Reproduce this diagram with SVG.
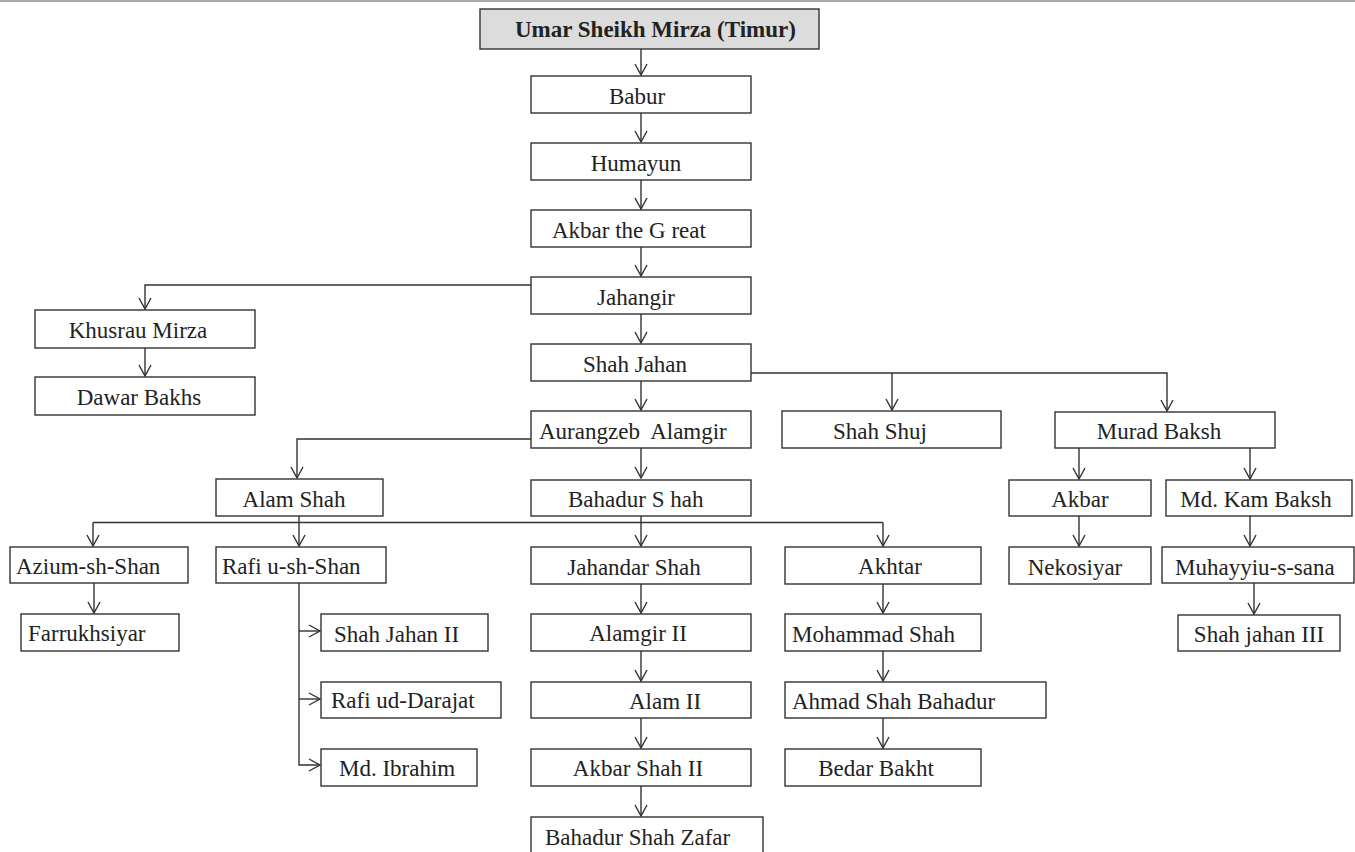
<svg xmlns="http://www.w3.org/2000/svg" width="1355" height="852" viewBox="0 0 1355 852">
  <style>
    .box { fill: #ffffff; stroke: #333333; stroke-width: 1.4; }
    .root { fill: #dcdcdc; stroke: #333333; stroke-width: 1.4; }
    .t { font-family: 'Liberation Serif', Tinos, 'Times New Roman', Times, 'DejaVu Serif', serif; font-size: 23px; fill: #222222; }
    .c { text-anchor: middle; }
    .b { font-weight: bold; }
    .conn { fill: none; stroke: #333333; stroke-width: 1.4; }
  </style>
  <defs>
    <marker id="arrow" viewBox="0 0 13 14" refX="12" refY="7" markerWidth="13" markerHeight="14" markerUnits="userSpaceOnUse" orient="auto">
      <path d="M1,1 L12,7 L1,13" fill="none" stroke="#333333" stroke-width="1.4"/>
    </marker>
  </defs>
  <rect width="1355" height="852" fill="#ffffff"/>
  <line x1="0" y1="1" x2="1355" y2="1" stroke="#a8a8a8" stroke-width="2"/>

  <!-- connectors -->
  <g id="connectors" class="conn">
    <line x1="641" y1="49" x2="641" y2="75" marker-end="url(#arrow)"/>
    <line x1="641" y1="113" x2="641" y2="142" marker-end="url(#arrow)"/>
    <line x1="641" y1="180" x2="641" y2="209" marker-end="url(#arrow)"/>
    <line x1="641" y1="247" x2="641" y2="276" marker-end="url(#arrow)"/>
    <line x1="641" y1="314" x2="641" y2="343" marker-end="url(#arrow)"/>
    <polyline points="531,285 145,285 145,309" marker-end="url(#arrow)"/>
    <line x1="145" y1="348" x2="145" y2="376" marker-end="url(#arrow)"/>
    <line x1="641" y1="381" x2="641" y2="410" marker-end="url(#arrow)"/>
    <polyline points="751,373 1167,373 1167,411" marker-end="url(#arrow)"/>
    <line x1="892" y1="373" x2="892" y2="410" marker-end="url(#arrow)"/>
    <line x1="641" y1="448" x2="641" y2="478" marker-end="url(#arrow)"/>
    <polyline points="531,439 297,439 297,478" marker-end="url(#arrow)"/>
    <line x1="1079" y1="448" x2="1079" y2="479" marker-end="url(#arrow)"/>
    <line x1="1250" y1="448" x2="1250" y2="479" marker-end="url(#arrow)"/>
    <line x1="1079" y1="516" x2="1079" y2="546" marker-end="url(#arrow)"/>
    <line x1="1250" y1="516" x2="1250" y2="546" marker-end="url(#arrow)"/>
    <line x1="1254" y1="583" x2="1254" y2="614" marker-end="url(#arrow)"/>
    <!-- shared sibling bar -->
    <line x1="93" y1="522.5" x2="883" y2="522.5"/>
    <line x1="299" y1="516" x2="299" y2="522.5"/>
    <line x1="641" y1="516" x2="641" y2="522.5"/>
    <line x1="93" y1="522.5" x2="93" y2="546" marker-end="url(#arrow)"/>
    <line x1="299" y1="522.5" x2="299" y2="546" marker-end="url(#arrow)"/>
    <line x1="641" y1="522.5" x2="641" y2="546" marker-end="url(#arrow)"/>
    <line x1="883" y1="522.5" x2="883" y2="546" marker-end="url(#arrow)"/>
    <line x1="94" y1="583" x2="94" y2="613" marker-end="url(#arrow)"/>
    <!-- Rafi u-sh-Shan branches -->
    <polyline points="299,583 299,765 320,765" marker-end="url(#arrow)"/>
    <line x1="299" y1="631" x2="320" y2="631" marker-end="url(#arrow)"/>
    <line x1="299" y1="699" x2="320" y2="699" marker-end="url(#arrow)"/>
    <line x1="641" y1="584" x2="641" y2="613" marker-end="url(#arrow)"/>
    <line x1="641" y1="651" x2="641" y2="681" marker-end="url(#arrow)"/>
    <line x1="641" y1="718" x2="641" y2="748" marker-end="url(#arrow)"/>
    <line x1="641" y1="786" x2="641" y2="816" marker-end="url(#arrow)"/>
    <line x1="883" y1="584" x2="883" y2="613" marker-end="url(#arrow)"/>
    <line x1="883" y1="651" x2="883" y2="681" marker-end="url(#arrow)"/>
    <line x1="883" y1="718" x2="883" y2="748" marker-end="url(#arrow)"/>
  </g>

  <!-- nodes -->
  <g id="umar"><rect class="root" x="480" y="9" width="339" height="40"/><text class="t b" x="515" y="37">Umar Sheikh Mirza (Timur)</text></g>
  <g id="babur"><rect class="box" x="531" y="76" width="220" height="37"/><text class="t c" x="637" y="104">Babur</text></g>
  <g id="humayun"><rect class="box" x="531" y="143" width="220" height="37"/><text class="t c" x="636" y="171">Humayun</text></g>
  <g id="akbar-great"><rect class="box" x="531" y="210" width="220" height="37"/><text class="t" x="552" y="238">Akbar the G reat</text></g>
  <g id="jahangir"><rect class="box" x="531" y="277" width="220" height="37"/><text class="t c" x="636" y="305">Jahangir</text></g>
  <g id="khusrau"><rect class="box" x="35" y="310" width="220" height="38"/><text class="t c" x="138" y="338">Khusrau Mirza</text></g>
  <g id="dawar"><rect class="box" x="35" y="377" width="220" height="38"/><text class="t c" x="139" y="405">Dawar Bakhs</text></g>
  <g id="shah-jahan"><rect class="box" x="531" y="344" width="220" height="37"/><text class="t c" x="635" y="372">Shah Jahan</text></g>
  <g id="aurangzeb"><rect class="box" x="531" y="411" width="220" height="37"/><text class="t" x="539" y="439" xml:space="preserve">Aurangzeb  Alamgir</text></g>
  <g id="shah-shuj"><rect class="box" x="782" y="411" width="219" height="37"/><text class="t c" x="880" y="439">Shah Shuj</text></g>
  <g id="murad"><rect class="box" x="1055" y="412" width="220" height="36"/><text class="t c" x="1159" y="439">Murad Baksh</text></g>
  <g id="alam-shah"><rect class="box" x="216" y="479" width="167" height="37"/><text class="t c" x="294" y="507">Alam Shah</text></g>
  <g id="bahadur-shah"><rect class="box" x="531" y="480" width="220" height="36"/><text class="t" x="568" y="507">Bahadur S hah</text></g>
  <g id="akbar"><rect class="box" x="1009" y="480" width="142" height="36"/><text class="t c" x="1080" y="507">Akbar</text></g>
  <g id="kam-baksh"><rect class="box" x="1166" y="480" width="186" height="36"/><text class="t c" x="1256" y="507">Md. Kam Baksh</text></g>
  <g id="azium"><rect class="box" x="10" y="547" width="178" height="36"/><text class="t" x="16" y="574">Azium-sh-Shan</text></g>
  <g id="rafi-shan"><rect class="box" x="216" y="547" width="170" height="36"/><text class="t" x="222" y="574">Rafi u-sh-Shan</text></g>
  <g id="jahandar"><rect class="box" x="531" y="547" width="220" height="37"/><text class="t c" x="634" y="575">Jahandar Shah</text></g>
  <g id="akhtar"><rect class="box" x="785" y="547" width="196" height="37"/><text class="t c" x="890" y="574">Akhtar</text></g>
  <g id="nekosiyar"><rect class="box" x="1009" y="547" width="142" height="37"/><text class="t c" x="1075" y="575">Nekosiyar</text></g>
  <g id="muhayyiu"><rect class="box" x="1162" y="547" width="192" height="36"/><text class="t" x="1175" y="575">Muhayyiu-s-sana</text></g>
  <g id="farrukhsiyar"><rect class="box" x="21" y="614" width="158" height="37"/><text class="t" x="28" y="641">Farrukhsiyar</text></g>
  <g id="shah-jahan-2"><rect class="box" x="321" y="614" width="167" height="37"/><text class="t" x="334" y="642">Shah Jahan II</text></g>
  <g id="alamgir-2"><rect class="box" x="531" y="614" width="220" height="37"/><text class="t c" x="638" y="641">Alamgir II</text></g>
  <g id="mohammad"><rect class="box" x="785" y="614" width="196" height="37"/><text class="t" x="792" y="642">Mohammad Shah</text></g>
  <g id="shah-jahan-3"><rect class="box" x="1178" y="615" width="162" height="36"/><text class="t c" x="1259" y="642">Shah jahan III</text></g>
  <g id="rafi-darajat"><rect class="box" x="321" y="682" width="180" height="36"/><text class="t" x="331" y="708">Rafi ud-Darajat</text></g>
  <g id="alam-2"><rect class="box" x="531" y="682" width="220" height="36"/><text class="t" x="629" y="709">Alam II</text></g>
  <g id="ahmad"><rect class="box" x="785" y="682" width="261" height="36"/><text class="t" x="792" y="709">Ahmad Shah Bahadur</text></g>
  <g id="ibrahim"><rect class="box" x="321" y="749" width="156" height="37"/><text class="t" x="339" y="776">Md. Ibrahim</text></g>
  <g id="akbar-shah-2"><rect class="box" x="531" y="749" width="220" height="37"/><text class="t c" x="638" y="776">Akbar Shah II</text></g>
  <g id="bedar"><rect class="box" x="785" y="749" width="196" height="37"/><text class="t c" x="876" y="776">Bedar Bakht</text></g>
  <g id="zafar"><rect class="box" x="531" y="817" width="232" height="40"/><text class="t" x="545" y="845">Bahadur Shah Zafar</text></g>
</svg>
